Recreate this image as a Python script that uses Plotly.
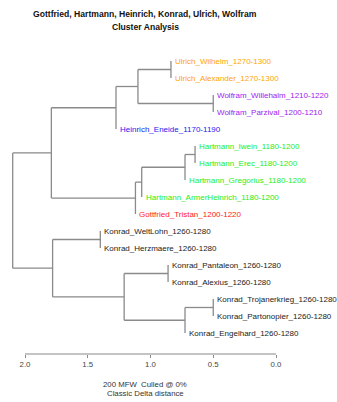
import plotly.graph_objects as go

# ---- data ----
leaf_labels = [
    "Ulrich_Wilhelm_1270-1300",
    "Ulrich_Alexander_1270-1300",
    "Wolfram_Willehalm_1210-1220",
    "Wolfram_Parzival_1200-1210",
    "Heinrich_Eneide_1170-1190",
    "Hartmann_Iwein_1180-1200",
    "Hartmann_Erec_1180-1200",
    "Hartmann_Gregorius_1180-1200",
    "Hartmann_ArmerHeinrich_1180-1200",
    "Gottfried_Tristan_1200-1220",
    "Konrad_WeltLohn_1260-1280",
    "Konrad_Herzmaere_1260-1280",
    "Konrad_Pantaleon_1260-1280",
    "Konrad_Alexius_1260-1280",
    "Konrad_Trojanerkrieg_1260-1280",
    "Konrad_Partonopier_1260-1280",
    "Konrad_Engelhard_1260-1280",
]
leaf_colors = [
    "#FFA500", "#FFA500",
    "#A020F0", "#A020F0",
    "#2222EE",
    "#22EE22", "#22EE22", "#22EE22", "#22EE22",
    "#FF1A1A",
    "#222222", "#222222", "#222222", "#222222", "#222222", "#222222", "#222222",
]
# merges: negative = leaf index (-(i+1)), positive = earlier merge (1-based)
merge_a = [-1, -3, 1, 3, -6, 5, 6, 7, 4, -11, -13, -15, 12, 11, 10, 9]
merge_b = [-2, -4, 2, -5, -7, -8, -9, -10, 8, -12, -14, -16, -17, 13, 14, 15]
merge_height = [0.837, 0.50, 1.10, 1.275, 0.645, 0.725, 1.07, 1.12, 1.79,
                1.40, 0.86, 0.50, 0.725, 1.21, 1.78, 2.098]

tick_vals = [2.0, 1.5, 1.0, 0.5, 0.0]
tick_text = ["2.0", "1.5", "1.0", "0.5", "0.0"]

title_lines = ["Gottfried, Hartmann, Heinrich, Konrad, Ulrich, Wolfram", "Cluster Analysis"]
axis_lines = ["200 MFW  Culled @ 0%", "Classic Delta distance"]

# ---- layout of tree ----
leaf_parent_h = {}
node_y = []
node_h = []


def child_pos(c):
    if c < 0:
        i = -c - 1
        return i, None
    return node_y[c - 1], node_h[c - 1]


lx, ly = [], []
for a, b, h in zip(merge_a, merge_b, merge_height):
    ya, ha = child_pos(a)
    yb, hb = child_pos(b)
    for c in (a, b):
        if c < 0:
            leaf_parent_h[-c - 1] = h
    ha = h if ha is None else ha
    hb = h if hb is None else hb
    # vertical
    lx += [h, h, None]
    ly += [ya, yb, None]
    # horizontals
    lx += [h, ha, None, h, hb, None]
    ly += [ya, ya, None, yb, yb, None]
    node_y.append((ya + yb) / 2)
    node_h.append(h)

line_col = "#8a8a8a"
fig = go.Figure()
fig.add_trace(go.Scatter(x=lx, y=ly, mode="lines",
                         line=dict(color=line_col, width=1.3),
                         hoverinfo="skip", showlegend=False))

font_fam = "Liberation Sans, Arial, sans-serif"
for i, (lab, col) in enumerate(zip(leaf_labels, leaf_colors)):
    fig.add_annotation(x=leaf_parent_h[i], y=i, text=lab, showarrow=False,
                       xanchor="left", yanchor="middle", xshift=2,
                       font=dict(family=font_fam, size=8, color=col))

# axis line
fig.add_shape(type="line", xref="x", yref="paper", x0=min(tick_vals), x1=max(tick_vals),
              y0=0, y1=0, line=dict(color=line_col, width=1.2))

fig.add_annotation(xref="paper", yref="paper", x=145 / 337, y=1 - 14 / 354,
                   text="<b>" + title_lines[0] + "</b>", showarrow=False,
                   xanchor="center", yanchor="middle",
                   font=dict(family=font_fam, size=8.6, color="#111111"))
fig.add_annotation(xref="paper", yref="paper", x=145 / 337, y=1 - 27 / 354,
                   text="<b>" + title_lines[1] + "</b>", showarrow=False,
                   xanchor="center", yanchor="middle",
                   font=dict(family=font_fam, size=8.6, color="#111111"))
fig.add_annotation(xref="paper", yref="paper", x=145 / 337, y=-(384 - 354) / 354,
                   text=axis_lines[0], showarrow=False, xanchor="center", yanchor="middle",
                   font=dict(family=font_fam, size=7.8, color="#333333"))
fig.add_annotation(xref="paper", yref="paper", x=145 / 337, y=-(393 - 354) / 354,
                   text=axis_lines[1], showarrow=False, xanchor="center", yanchor="middle",
                   font=dict(family=font_fam, size=7.8, color="#333333"))

fig.update_layout(
    width=337, height=402,
    margin=dict(l=0, r=0, t=0, b=48),
    paper_bgcolor="white", plot_bgcolor="white",
    xaxis=dict(range=[2 + 25 / 125.5, 2 - 312 / 125.5], tickvals=tick_vals, ticktext=tick_text,
               ticks="outside", ticklen=3, tickcolor=line_col, showgrid=False, zeroline=False,
               showline=False, tickfont=dict(family=font_fam, size=7.8, color="#444444"),
               fixedrange=True),
    yaxis=dict(range=[(354 - 61) / 17, -61 / 17], visible=False, showgrid=False,
               zeroline=False, fixedrange=True),
)

fig.write_html("out.html", config={"displayModeBar": False},
               post_script="document.body.style.margin='0px';")
